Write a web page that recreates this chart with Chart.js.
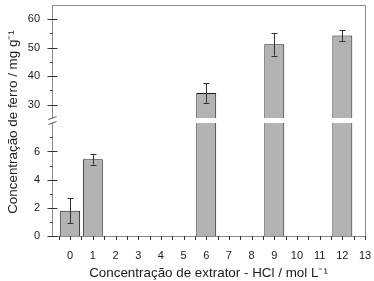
<!DOCTYPE html>
<html><head><meta charset="utf-8">
<script src="https://cdn.jsdelivr.net/npm/chart.js@4.4.1/dist/chart.umd.min.js"></script>
<style>html,body{margin:0;padding:0;background:#fff}#wrap{width:374px;height:281px}</style>
</head><body><div id="wrap"><canvas id="c" width="374" height="281"></canvas></div>
<script>
const xValues = [0, 1, 6, 9, 12];
const barValues = [1.8, 5.45, 34.1, 51.2, 54.3];
const errValues = [0.9, 0.38, 3.5, 4.0, 1.9];
const xTickLabels = [0,1,2,3,4,5,6,7,8,9,10,11,12,13];
const lowTicks = [0, 2, 4, 6];
const highTicks = [30, 40, 50, 60];
const LOW_MAX = 8.2, HIGH_MIN = 24.4, HIGH_MAX = 65;

const FONT = "'Liberation Sans', Arial, sans-serif";
const lowData = xValues.map((x, i) => ({x: x, y: Math.min(barValues[i], LOW_MAX)}));
const highData = xValues.map((x, i) => barValues[i] > LOW_MAX ? {x: x, y: [HIGH_MIN, barValues[i]]} : {x: x, y: null});

const decor = {
  id: 'decor',
  afterDatasetsDraw(chart) {
    const ctx = chart.ctx, ca = chart.chartArea;
    const sx = chart.scales.x, yl = chart.scales.yLow, yh = chart.scales.yHigh;
    const boundary = yl.top;
    ctx.save();
    ctx.fillStyle = '#fff';
    ctx.fillRect(ca.left + 1, boundary - 2.5, ca.right - ca.left - 2, 5);
    ctx.strokeStyle = '#333'; ctx.lineWidth = 1;
    xValues.forEach((x, i) => {
      const v = barValues[i], e = errValues[i];
      const sc = v > LOW_MAX ? yh : yl;
      const px = Math.round(sx.getPixelForValue(x)) + 0.5;
      const y1 = sc.getPixelForValue(v + e), y2 = sc.getPixelForValue(v - e);
      ctx.beginPath();
      ctx.moveTo(px, y1); ctx.lineTo(px, y2);
      ctx.moveTo(px - 3, Math.round(y1) + 0.5); ctx.lineTo(px + 3, Math.round(y1) + 0.5);
      ctx.moveTo(px - 3, Math.round(y2) + 0.5); ctx.lineTo(px + 3, Math.round(y2) + 0.5);
      ctx.stroke();
    });
    ctx.strokeStyle = '#8a8a8a';
    ctx.beginPath();
    ctx.moveTo(ca.left, ca.top + 0.5); ctx.lineTo(ca.right + 0.5, ca.top + 0.5);
    ctx.lineTo(ca.right + 0.5, ca.bottom);
    ctx.stroke();
    const ax = ca.left + 0.5;
    ctx.strokeStyle = '#333';
    const major = (sc, v) => { const y = Math.round(sc.getPixelForValue(v)) + 0.5; ctx.beginPath(); ctx.moveTo(ax - 5, y); ctx.lineTo(ax + 5, y); ctx.stroke(); };
    const minor = (sc, v) => { const y = Math.round(sc.getPixelForValue(v)) + 0.5; ctx.beginPath(); ctx.moveTo(ax - 2.5, y); ctx.lineTo(ax, y); ctx.stroke(); };
    lowTicks.forEach(v => major(yl, v));
    [1, 3, 5, 7].forEach(v => minor(yl, v));
    highTicks.forEach(v => major(yh, v));
    [35, 45, 55].forEach(v => minor(yh, v));
    for (let v = -0.5; v <= 13.001; v += 0.5) {
      const px = Math.round(sx.getPixelForValue(v)) + 0.5;
      ctx.beginPath(); ctx.moveTo(px, ca.bottom); ctx.lineTo(px, ca.bottom + 4); ctx.stroke();
    }
    ctx.fillStyle = '#fff';
    ctx.fillRect(ax - 1.5, boundary - 2.5, 3, 5);
    ctx.strokeStyle = '#555';
    ctx.beginPath();
    ctx.moveTo(ax - 4, boundary - 1); ctx.lineTo(ax + 4, boundary - 4);
    ctx.moveTo(ax - 4, boundary + 4); ctx.lineTo(ax + 4, boundary + 1);
    ctx.stroke();
    ctx.fillStyle = '#1a1a1a';
    ctx.font = '13.4px ' + FONT;
    ctx.textAlign = 'center'; ctx.textBaseline = 'middle';
    ctx.translate(13, 122);
    ctx.rotate(-Math.PI / 2);
    ctx.fillText('Concentração de ferro / mg g⁻¹', 0, 0);
    ctx.restore();
  }
};

const yCommon = (mn, mx, ticks) => ({
  type: 'linear', position: 'left', stack: 'y', stackWeight: 1,
  min: mn, max: mx,
  grid: { display: false, drawTicks: false },
  border: { display: true, color: '#8a8a8a', width: 1 },
  ticks: { padding: 12, color: '#1a1a1a', font: { family: FONT, size: 11 } },
  afterBuildTicks: s => { s.ticks = ticks.map(v => ({ value: v })); },
  afterFit: s => { s.width = 52; s.paddingTop = 0; s.paddingBottom = 0; }
});

new Chart(document.getElementById('c'), {
  type: 'bar',
  data: {
    datasets: [
      { data: lowData, xAxisID: 'x', yAxisID: 'yLow', backgroundColor: '#b3b3b3', borderColor: '#1a1a1a', borderWidth: 1, barPercentage: 0.88, categoryPercentage: 1, grouped: false },
      { data: highData, xAxisID: 'x', yAxisID: 'yHigh', backgroundColor: '#b3b3b3', borderColor: '#1a1a1a', borderWidth: 1, barPercentage: 0.88, categoryPercentage: 1, grouped: false, borderSkipped: false }
    ]
  },
  options: {
    responsive: false, animation: false,
    layout: { padding: { left: 0, top: 5, right: 9, bottom: 0 } },
    plugins: { legend: { display: false }, tooltip: { enabled: false } },
    scales: {
      x: {
        type: 'linear', min: -0.8, max: 13, offset: false,
        grid: { display: false, drawTicks: false, offset: false },
        border: { display: true, color: '#8a8a8a', width: 1 },
        ticks: { padding: 13, color: '#1a1a1a', font: { family: FONT, size: 11 } },
        afterBuildTicks: s => { s.ticks = xTickLabels.map(v => ({ value: v })); },
        title: { display: true, text: 'Concentração de extrator - HCl / mol L⁻¹', color: '#1a1a1a', font: { family: FONT, size: 13.4 }, padding: { top: 4, bottom: 0 } },
        afterFit: s => { s.height = 45; s.paddingLeft = 0; s.paddingRight = 0; }
      },
      yLow: yCommon(0, LOW_MAX, lowTicks),
      yHigh: yCommon(HIGH_MIN, HIGH_MAX, highTicks)
    }
  },
  plugins: [decor]
});
</script></body></html>
